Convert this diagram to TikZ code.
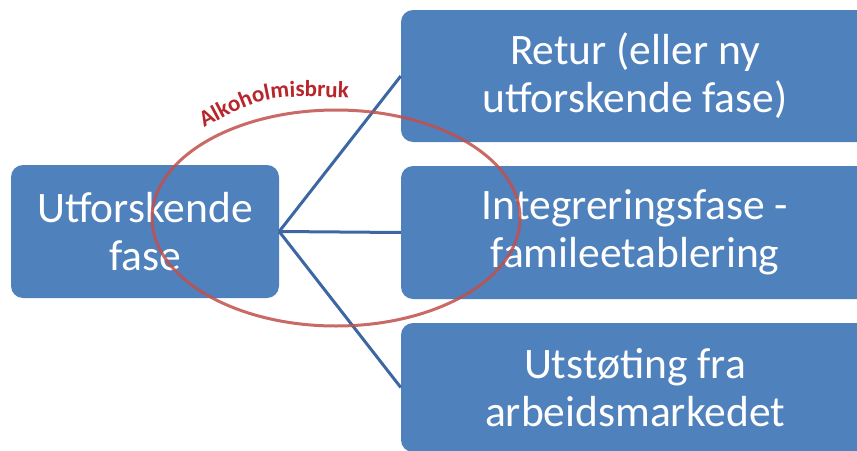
\documentclass[tikz,border=0pt]{standalone}
\usepackage{fontspec}
\setmainfont{Carlito}
\usetikzlibrary{decorations.text,shapes.geometric}
\definecolor{boxblue}{HTML}{4F81BD}
\definecolor{lineblue}{HTML}{3C67A3}
\definecolor{ellred}{HTML}{C0504D}
\definecolor{txtred}{HTML}{B8252B}
\tikzset{
  phase/.style={fill=boxblue, rounded corners=12pt, text=white, align=center,
    inner sep=0pt, font=\fontsize{43.5}{48}\selectfont},
  link/.style={draw=lineblue, line width=3pt},
  ring/.style={draw=ellred, line width=3pt, draw opacity=0.85}
}
\begin{document}
\begin{tikzpicture}[x=1pt,y=-1pt]
\clip (0,0) rectangle (857,450);
\useasboundingbox (0,0) rectangle (857,450);
\fill[white] (0,0) rectangle (857,450);
\node[phase, minimum width=268pt, minimum height=133pt] (start) at (145,231.5) {Utforskende\\fase};
\node[phase, minimum width=468pt, minimum height=132pt] (ret) at (635,76) {Retur (eller ny\\utforskende fase)};
\node[phase, minimum width=468pt, minimum height=133pt] (integ) at (635,232.5) {Integreringsfase -\\famileetablering};
\node[phase, minimum width=468pt, minimum height=129pt] (ut) at (635,387.5) {Utstøting fra\\arbeidsmarkedet};
\draw[link] (start.east) -- (ret.west);
\draw[link] (start.east) -- (integ.west);
\draw[link] (start.east) -- (ut.west);
\node[ring, ellipse, draw, minimum width=368pt, minimum height=216pt, inner sep=0pt] (ell) at (336,218) {};
\path[decorate, decoration={text along path, text align=center,
  text={|\fontsize{23}{23}\selectfont\bfseries\color{txtred}|Alkoholmisbruk}}]
  (202,129) .. controls (265,95) .. (351,98);
\end{tikzpicture}
\end{document}
